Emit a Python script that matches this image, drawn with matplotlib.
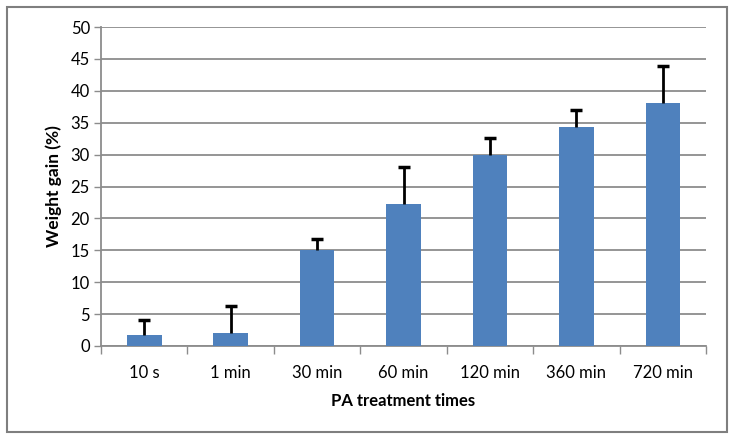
import matplotlib.pyplot as plt
import numpy as np
from matplotlib.patches import Rectangle

# data
categories = ['10 s', '1 min', '30 min', '60 min', '120 min', '360 min', '720 min']
weight_gain = [1.7, 2.0, 15.0, 22.2, 30.0, 34.4, 38.1]
err_upper = [2.3, 4.2, 1.8, 5.9, 2.6, 2.6, 5.8]

plt.rcParams['font.family'] = ['Lato', 'DejaVu Sans']

fig = plt.figure(figsize=(7.34, 4.42), dpi=100)
ax = fig.add_axes([101 / 734, 1 - 346 / 442, 605 / 734, 319 / 442])

x = np.arange(len(categories))
ax.bar(x, weight_gain, width=0.4, color='#4F81BD', zorder=3)
# upper-only error bars: stem plus a cap at the top end only
tops = np.array(weight_gain) + np.array(err_upper)
ax.vlines(x, weight_gain, tops, color='black', linewidth=2, zorder=4)
ax.plot(x, tops, linestyle='none', marker='_', markersize=9, markeredgewidth=2.5,
        color='black', zorder=4)

ax.set_xlim(-0.5, len(categories) - 0.5)
ax.set_ylim(0, 50)
ax.set_yticks(np.arange(0, 51, 5))
ax.yaxis.grid(True, color='#8C8C8C', linewidth=1.3, zorder=0)
ax.set_axisbelow(True)

# category labels centred, tick marks at the boundaries
ax.set_xticks(x)
ax.set_xticklabels(categories, fontsize=12)
ax.tick_params(axis='x', length=0, pad=14)
ax.set_xticks(np.arange(-0.5, len(categories)), minor=True)
ax.tick_params(axis='x', which='minor', length=6, width=1, color='#8C8C8C', direction='out')
ax.tick_params(axis='y', labelsize=12, length=5, width=1, color='#8C8C8C', pad=3)

for side in ['top', 'right']:
    ax.spines[side].set_visible(False)
for side in ['left', 'bottom']:
    ax.spines[side].set_color('#8C8C8C')
    ax.spines[side].set_linewidth(1.3)

ax.set_xlabel('PA treatment times', fontsize=12, fontweight='bold', labelpad=8)
ax.set_ylabel('Weight gain (%)', fontsize=12.5, fontweight='bold', labelpad=6)

# outer chart border
fig.patches.append(Rectangle((7 / 734, 10 / 442), 720 / 734, 425 / 442,
                             transform=fig.transFigure, fill=False,
                             edgecolor='#7F7F7F', linewidth=1.5))

fig.savefig('out.png', dpi=100)
